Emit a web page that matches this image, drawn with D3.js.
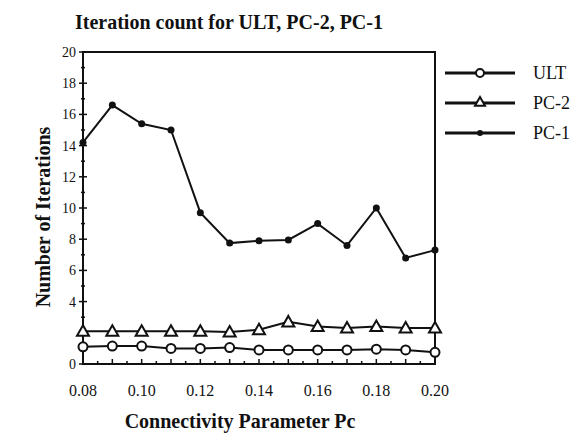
<!DOCTYPE html>
<html>
<head>
<meta charset="utf-8">
<script src="https://d3js.org/d3.v7.min.js"></script>
<title>Iteration count</title>
<style>
body { margin: 0; background: #fff; }
text { font-family: "Liberation Serif", "DejaVu Serif", serif; fill: #111; }
</style>
</head>
<body>
<script>

// connectivity parameter values (x)
var pc = [0.08, 0.09, 0.10, 0.11, 0.12, 0.13, 0.14, 0.15, 0.16, 0.17, 0.18, 0.19, 0.20];

// iteration counts
var ult = [1.1, 1.15, 1.15, 1.0, 1.0, 1.05, 0.9, 0.9, 0.9, 0.9, 0.95, 0.9, 0.75];
var pc2 = [2.1, 2.1, 2.1, 2.1, 2.1, 2.05, 2.2, 2.7, 2.4, 2.3, 2.4, 2.3, 2.3];
var pc1 = [14.2, 16.6, 15.4, 15.0, 9.7, 7.75, 7.9, 7.95, 9.0, 7.6, 10.0, 6.8, 7.3];

var seriesNames = ["ULT", "PC-2", "PC-1"];
var yTickLabels = [0, 4, 6, 8, 10, 12, 14, 16, 18, 20];
var xTickLabels = [0.08, 0.10, 0.12, 0.14, 0.16, 0.18, 0.20];

var W = 587, H = 435;
var margin = {top: 52, right: 152, bottom: 71, left: 83},
    width = W - margin.left - margin.right,
    height = H - margin.top - margin.bottom;

var svg = d3.select("body").append("svg")
    .attr("width", W)
    .attr("height", H);

var g = svg.append("g")
    .attr("transform", "translate(" + margin.left + "," + margin.top + ")");

var x = d3.scaleLinear().domain([0.08, 0.20]).range([0, width]);
var y = d3.scaleLinear().domain([0, 20]).range([height, 0]);

// frame
g.append("rect")
    .attr("width", width).attr("height", height)
    .attr("fill", "none").attr("stroke", "#111").attr("stroke-width", 2);

// y axis: majors every 2 crossing the line, minors every 1
var yMinor = d3.range(0, 20.01, 1);
g.selectAll(".yminor").data(yMinor).enter().append("line")
    .attr("x1", function(d) { return d % 2 ? -2 : -4; })
    .attr("x2", function(d) { return d % 2 ? 2 : 4; })
    .attr("y1", function(d) { return y(d); })
    .attr("y2", function(d) { return y(d); })
    .attr("stroke", "#111").attr("stroke-width", 1.5);

g.selectAll(".ylab").data(yTickLabels).enter().append("text")
    .attr("x", -7)
    .attr("y", function(d) { return y(d); })
    .attr("dy", "0.35em")
    .attr("text-anchor", "end")
    .style("font-size", "14px")
    .text(function(d) { return d; });

// x axis: small ticks every 0.005 pointing up
var xMinor = d3.range(0, 25).map(function(i) { return 0.08 + i * 0.005; });
g.selectAll(".xminor").data(xMinor).enter().append("line")
    .attr("x1", function(d) { return x(d); })
    .attr("x2", function(d) { return x(d); })
    .attr("y1", height)
    .attr("y2", function(d, i) { return height - (i % 2 ? 3 : 5); })
    .attr("stroke", "#111").attr("stroke-width", 1.5);

g.selectAll(".xlab").data(xTickLabels).enter().append("text")
    .attr("x", function(d) { return x(d); })
    .attr("y", height + 32)
    .attr("text-anchor", "middle")
    .style("font-size", "16px")
    .text(function(d) { return d.toFixed(2); });

// lines
var line = d3.line()
    .x(function(d, i) { return x(pc[i]); })
    .y(function(d) { return y(d); });

[ult, pc2, pc1].forEach(function(s) {
  g.append("path").datum(s)
      .attr("d", line)
      .attr("fill", "none").attr("stroke", "#111").attr("stroke-width", 2);
});

// markers
function triangle(cx, cy, s) {
  return "M" + cx + "," + (cy - s) + "L" + (cx + s) + "," + (cy + s * 0.75) + "L" + (cx - s) + "," + (cy + s * 0.75) + "Z";
}

g.selectAll(".m-ult").data(ult).enter().append("circle")
    .attr("cx", function(d, i) { return x(pc[i]); })
    .attr("cy", function(d) { return y(d); })
    .attr("r", 4.5)
    .attr("fill", "#fff").attr("stroke", "#111").attr("stroke-width", 2);

g.selectAll(".m-pc2").data(pc2).enter().append("path")
    .attr("d", function(d, i) { return triangle(x(pc[i]), y(d), 6); })
    .attr("fill", "#fff").attr("stroke", "#111").attr("stroke-width", 2);

g.selectAll(".m-pc1").data(pc1).enter().append("circle")
    .attr("cx", function(d, i) { return x(pc[i]); })
    .attr("cy", function(d) { return y(d); })
    .attr("r", 3.5)
    .attr("fill", "#111");

// legend
var legend = svg.append("g").attr("transform", "translate(445,73)");
seriesNames.forEach(function(name, i) {
  var row = legend.append("g").attr("transform", "translate(0," + (i * 30) + ")");
  row.append("line").attr("x1", 0).attr("x2", 70).attr("y1", 0).attr("y2", 0)
      .attr("stroke", "#111").attr("stroke-width", 3);
  if (i === 0) {
    row.append("circle").attr("cx", 35).attr("cy", 0).attr("r", 4)
        .attr("fill", "#fff").attr("stroke", "#111").attr("stroke-width", 2);
  } else if (i === 1) {
    row.append("path").attr("d", triangle(35, -1, 5))
        .attr("fill", "#fff").attr("stroke", "#111").attr("stroke-width", 2);
  } else {
    row.append("circle").attr("cx", 35).attr("cy", 0).attr("r", 3).attr("fill", "#111");
  }
  row.append("text").attr("x", 88).attr("y", 0).attr("dy", "0.35em")
      .style("font-size", "18px")
      .text(name);
});

// titles
svg.append("text")
    .attr("x", 229).attr("y", 29)
    .attr("text-anchor", "middle")
    .style("font-size", "20px").style("font-weight", "bold")
    .text("Iteration count for  ULT, PC-2, PC-1");

svg.append("text")
    .attr("x", 240).attr("y", 428)
    .attr("text-anchor", "middle")
    .style("font-size", "20px").style("font-weight", "bold")
    .text("Connectivity Parameter  Pc");

svg.append("text")
    .attr("transform", "translate(50,217) rotate(-90)")
    .attr("text-anchor", "middle")
    .style("font-size", "20px").style("font-weight", "bold")
    .text("Number of Iterations");

</script>
</body>
</html>
